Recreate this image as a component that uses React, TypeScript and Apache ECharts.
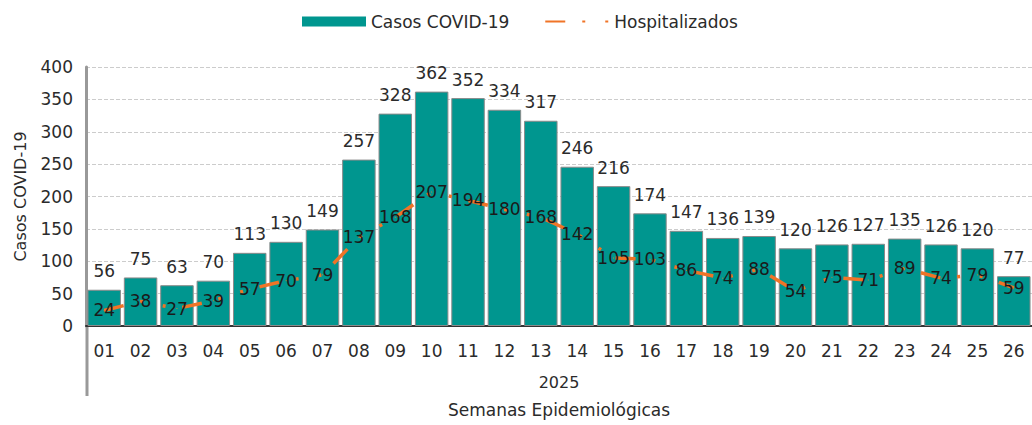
import React, { useEffect, useRef } from "react";
import * as echarts from "echarts";

const weeks = ["01", "02", "03", "04", "05", "06", "07", "08", "09", "10", "11", "12", "13", "14", "15", "16", "17", "18", "19", "20", "21", "22", "23", "24", "25", "26"];
const yearLabel = ["2025"];
const casos = [56, 75, 63, 70, 113, 130, 149, 257, 328, 362, 352, 334, 317, 246, 216, 174, 147, 136, 139, 120, 126, 127, 135, 126, 120, 77];
const hospitalizados = [24, 38, 27, 39, 57, 70, 79, 137, 168, 207, 194, 180, 168, 142, 105, 103, 86, 74, 88, 54, 75, 71, 89, 74, 79, 59];
const seriesNames = ["Casos COVID-19", "Hospitalizados"];

const FONT = "DejaVu Sans";
const TEAL = "#00968F";
const ORANGE = "#F07427";

export default function App() {
  const ref = useRef<HTMLDivElement>(null);
  useEffect(() => {
    if (!ref.current) return;
    const chart = echarts.init(ref.current, undefined, { renderer: "svg" });
    chart.setOption({
      animation: false,
      textStyle: { fontFamily: FONT, color: "#2b2b2b" },
      legend: {
        top: 8,
        left: 297,
        itemWidth: 64,
        itemHeight: 10,
        itemGap: 35,
        textStyle: { fontSize: 17, color: "#2b2b2b", fontFamily: FONT },
        data: [
          { name: seriesNames[0], icon: "rect", itemStyle: { borderWidth: 0 } },
          { name: seriesNames[1], itemStyle: { opacity: 0 } },
        ],
      },
      grid: { left: 86, top: 67, bottom: 99, right: -16, containLabel: false },
      xAxis: [
        {
          type: "category",
          data: weeks,
          axisLine: { lineStyle: { color: "#333", width: 2 } },
          axisTick: { show: false },
          axisLabel: { fontSize: 17, color: "#2b2b2b", margin: 16, fontFamily: FONT },
          name: "Semanas Epidemiológicas",
          nameLocation: "middle",
          nameGap: 75,
          nameTextStyle: { fontSize: 17, color: "#2b2b2b", fontFamily: FONT },
        },
        {
          type: "category",
          data: yearLabel,
          position: "bottom",
          offset: 30,
          axisLine: { show: false },
          axisTick: { show: false },
          axisLabel: { fontSize: 16, color: "#2b2b2b", margin: 18, fontFamily: FONT },
        },
      ],
      yAxis: {
        type: "value",
        min: 0,
        max: 400,
        interval: 50,
        axisLine: { show: true, lineStyle: { color: "#999", width: 3 } },
        axisTick: { show: false },
        splitLine: { lineStyle: { type: "dashed", color: "#ccc" } },
        axisLabel: { fontSize: 17, color: "#2b2b2b", margin: 13, fontFamily: FONT },
        name: "Casos COVID-19",
        nameLocation: "middle",
        nameGap: 58,
        nameTextStyle: { fontSize: 16, color: "#2b2b2b", fontFamily: FONT },
      },
      graphic: [
        {
          type: "line",
          shape: { x1: 87, y1: 326, x2: 87, y2: 396 },
          style: { stroke: "#999", lineWidth: 3 },
        },
      ],
      series: [
        {
          name: seriesNames[0],
          type: "bar",
          xAxisIndex: 0,
          data: casos,
          barCategoryGap: "8%",
          itemStyle: { color: TEAL, borderColor: "#8a8a8a", borderWidth: 1 },
          label: { show: true, position: "top", distance: 10, fontSize: 17, color: "#2b2b2b", fontFamily: FONT },
        },
        {
          name: seriesNames[1],
          type: "line",
          xAxisIndex: 0,
          data: hospitalizados,
          z: 5,
          color: ORANGE,
          symbol: "circle",
          symbolSize: 1,
          lineStyle: { color: ORANGE, width: 3.5, type: [20, 17, 3, 20, 3, 17] },
          label: { show: true, position: "inside", fontSize: 17, color: "#1a1a1a", fontFamily: FONT },
        },
      ],
    });
    return () => chart.dispose();
  }, []);
  return <div ref={ref} style={{ position: "absolute", left: 0, top: 0, width: 1032, height: 425 }} />;
}
